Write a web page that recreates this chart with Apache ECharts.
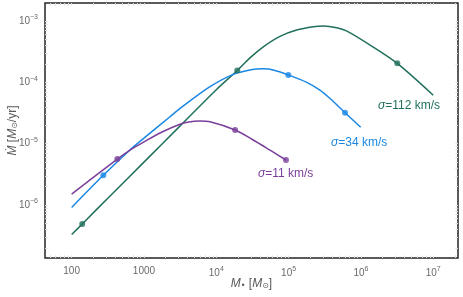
<!DOCTYPE html>
<html><head><meta charset="utf-8">
<script src="https://cdn.jsdelivr.net/npm/echarts@6/dist/echarts.min.js"></script>
<style>html,body{margin:0;padding:0;background:#fff}#c{width:463px;height:297px}</style>
</head><body><div id="c"></div>
<script>
// ---- data (M_bh in Msun, Mdot in Msun/yr) ----
var greenM    = [100, 140, 316, 1000, 3162, 1e4, 1.95e4, 2.92e4, 4.47e4, 7.59e4, 1.29e5, 2.2e5, 3.02e5, 4.62e5, 6.31e5, 1.34e6, 3.18e6, 1e7];
var greenMdot = [3.3e-7, 4.9e-7, 1.29e-6, 5.01e-6, 1.95e-5, 7.59e-5, 1.56e-4, 2.51e-4, 3.8e-4, 5.62e-4, 7.13e-4, 8.07e-4, 8.28e-4, 7.78e-4, 6.92e-4, 4.06e-4, 2.04e-4, 6.17e-5];
var blueM     = [100, 274, 640, 1000, 2291, 3162, 8185, 1.72e4, 3.16e4, 4.47e4, 6.31e4, 9.9e4, 1.78e5, 2.71e5, 3.72e5, 6.03e5, 9.93e5];
var blueMdot  = [9.12e-7, 3.05e-6, 7.89e-6, 1.23e-5, 2.75e-5, 3.76e-5, 8.49e-5, 1.35e-4, 1.62e-4, 1.66e-4, 1.58e-4, 1.32e-4, 1.0e-4, 7.50e-5, 5.50e-5, 3.20e-5, 1.85e-5];
var purpleM   = [100, 428, 640, 1000, 1778, 3148, 3981, 5957, 8185, 1.82e4, 3.16e4, 5.62e4, 9.2e4];
var purpleMdot= [1.51e-6, 5.62e-6, 7.89e-6, 1.07e-5, 1.55e-5, 2.07e-5, 2.24e-5, 2.34e-5, 2.28e-5, 1.67e-5, 1.17e-5, 7.76e-6, 5.42e-6];
// marked points
var greenDotM  = [140, 1.95e4, 3.18e6];
var greenDotY  = [4.9e-7, 1.56e-4, 2.04e-4];
var blueDotM   = [274, 9.9e4, 6.03e5];
var blueDotY   = [3.05e-6, 1.32e-4, 3.2e-5];
var purpleDotM = [428, 1.82e4, 9.2e4];
var purpleDotY = [5.62e-6, 1.67e-5, 5.42e-6];
// ticks
var xTicks = [100, 1000, 1e4, 1e5, 1e6, 1e7];
var xTickLabels = ['100', '1000', '10|4', '10|5', '10|6', '10|7'];
var yTicks = [1e-6, 1e-5, 1e-4, 1e-3];
var yTickLabels = ['10|\u22126', '10|\u22125', '10|\u22124', '10|\u22123'];
var seriesNames = ['\u03c3=112 km/s', '\u03c3=34 km/s', '\u03c3=11 km/s'];

var C_GREEN = '#21705d', C_BLUE = '#1a88e3', C_PURPLE = '#7a3f9a';
var L = Math.log10;

// log-log: data are plotted on value axes in log10 space
function zip(a, b) { return a.map(function (v, i) { return [L(v), L(b[i])]; }); }
function minorTicks(lo, hi, mn, mx) {
  var out = [];
  for (var e = lo; e <= hi; e++) for (var k = 1; k <= 9; k++) {
    var t = L(k * Math.pow(10, e));
    if (t >= mn && t <= mx) out.push(t);
  }
  return out;
}
var XMIN = L(42.8), XMAX = L(2.2e7), YMIN = L(1.37e-7), YMAX = L(1.965e-3);
var xMinor = minorTicks(1, 7, XMIN, XMAX);
var yMinor = minorTicks(-7, -3, YMIN, YMAX);

function fmt(ticks, labels) {
  return function (v) {
    for (var i = 0; i < ticks.length; i++) {
      if (Math.abs(v - L(ticks[i])) < 1e-6) {
        var p = labels[i].split('|');
        return p.length > 1 ? '{b|' + p[0] + '}{s|' + p[1] + '}' : '{b|' + p[0] + '}';
      }
    }
    return '';
  };
}
var richLab = {
  b: { fontSize: 10, color: '#6a6a6a', fontFamily: 'Liberation Sans' },
  s: { fontSize: 7, color: '#6a6a6a', fontFamily: 'Liberation Sans', padding: [0, 0, 7, 0] }
};

function lineS(name, xs, ys, col) {
  return { type: 'line', name: name, data: zip(xs, ys), smooth: 0.3, showSymbol: false,
    lineStyle: { color: col, width: 1.5 }, itemStyle: { color: col }, z: 2 };
}
function dotS(xs, ys, col) {
  return { type: 'scatter', data: zip(xs, ys), symbolSize: 6, itemStyle: { color: col }, z: 3 };
}
var tickStyle = { show: true, inside: true, length: 2.5, lineStyle: { color: '#dcdcdc', width: 1 } };
function ticks(vals) { return Object.assign({ customValues: vals }, tickStyle); }
var nameRich = {
  i: { fontStyle: 'italic', fontSize: 12, color: '#5a5a5a', fontFamily: 'Liberation Sans' },
  sub: { fontSize: 8, color: '#5a5a5a', fontFamily: 'DejaVu Sans', padding: [4, 0, 0, 0] }
};

var chart = echarts.init(document.getElementById('c'));
chart.setOption({
  animation: false,
  backgroundColor: '#fff',
  grid: { left: 45, right: 5, top: 3, bottom: 39, outerBoundsMode: 'none', containLabel: false,
    show: true, borderColor: '#262626', borderWidth: 1.5, backgroundColor: 'transparent' },
  xAxis: [{
    type: 'value', min: XMIN, max: XMAX,
    axisLine: { show: false }, splitLine: { show: false },
    axisTick: ticks(xMinor),
    axisLabel: { customValues: xTicks.map(L), formatter: fmt(xTicks, xTickLabels), rich: richLab, margin: 8 },
    name: '{i|M}{sub|\u2022} [{i|M}{sub|\u2299}]', nameLocation: 'middle', nameGap: 20, nameMoveOverlap: false,
    nameTextStyle: { rich: nameRich, fontSize: 12, color: '#5a5a5a', fontFamily: 'Liberation Sans' }
  }, {
    type: 'value', min: XMIN, max: XMAX, position: 'top',
    axisLine: { show: false }, splitLine: { show: false }, axisLabel: { show: false },
    axisTick: ticks(xMinor)
  }],
  yAxis: [{
    type: 'value', min: YMIN, max: YMAX,
    axisLine: { show: false }, splitLine: { show: false },
    axisTick: ticks(yMinor),
    axisLabel: { customValues: yTicks.map(L), formatter: fmt(yTicks, yTickLabels), rich: richLab, margin: 7 },
    name: '{i|\u1e40} [{i|M}{sub|\u2299}/yr]', nameLocation: 'middle', nameGap: 26, nameMoveOverlap: false,
    nameTextStyle: { rich: nameRich, fontSize: 12, color: '#5a5a5a', fontFamily: 'Liberation Sans' }
  }, {
    type: 'value', min: YMIN, max: YMAX, position: 'right',
    axisLine: { show: false }, splitLine: { show: false }, axisLabel: { show: false },
    axisTick: ticks(yMinor)
  }],
  series: [
    lineS(seriesNames[0], greenM, greenMdot, C_GREEN),
    lineS(seriesNames[1], blueM, blueMdot, C_BLUE),
    lineS(seriesNames[2], purpleM, purpleMdot, C_PURPLE),
    dotS(greenDotM, greenDotY, C_GREEN),
    dotS(blueDotM, blueDotY, C_BLUE),
    dotS(purpleDotM, purpleDotY, C_PURPLE)
  ],
  graphic: [
    { type: 'text', left: 378, top: 100, style: { text: '{g|\u03c3}=112 km/s', fill: C_GREEN, font: '12px "Liberation Sans"',
      rich: { g: { fontStyle: 'italic', fontSize: 12, fill: C_GREEN, fontFamily: 'Liberation Sans' } } } },
    { type: 'text', left: 331, top: 137, style: { text: '{g|\u03c3}=34 km/s', fill: C_BLUE, font: '12px "Liberation Sans"',
      rich: { g: { fontStyle: 'italic', fontSize: 12, fill: C_BLUE, fontFamily: 'Liberation Sans' } } } },
    { type: 'text', left: 258, top: 168, style: { text: '{g|\u03c3}=11 km/s', fill: C_PURPLE, font: '12px "Liberation Sans"',
      rich: { g: { fontStyle: 'italic', fontSize: 12, fill: C_PURPLE, fontFamily: 'Liberation Sans' } } } }
  ]
});
</script></body></html>
